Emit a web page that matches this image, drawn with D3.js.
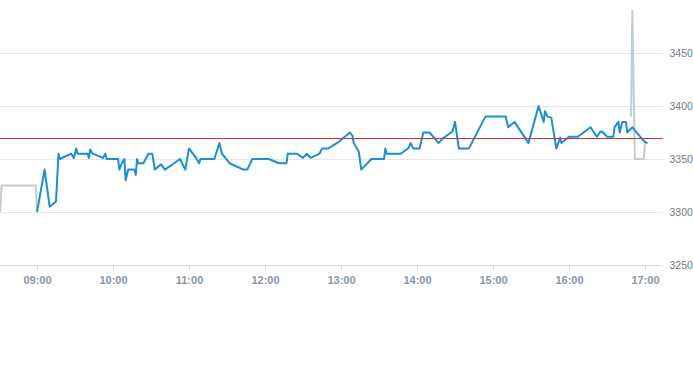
<!DOCTYPE html>
<meta charset="utf-8">
<style>
    body { margin: 0; background: #fff; }
    svg { display: block; font-family: "Liberation Sans", Arial, sans-serif; }
    .grid line { stroke: #e6e6e6; }
    .axis--x .domain, .axis--x line { stroke: #ccd6eb; }
    .axis--x text { fill: #8a94a3; font-size: 11px; font-weight: bold; }
    .axis--y text { fill: #707a87; font-size: 10.5px; }
    .line { fill: none; stroke-width: 2; stroke-linejoin: round; }
</style>
<svg width="693" height="365"></svg>
<script src="https://d3js.org/d3.v7.min.js"></script>
<script>

    // main session prices
    var priceTimes = ["09:00","09:06","09:10","09:15","09:17","09:18","09:27","09:29","09:31","09:32",
        "09:40","09:41","09:42","09:44","09:52","09:54","09:55","10:04","10:05","10:07",
        "10:09","10:10","10:12","10:17","10:18","10:19","10:20","10:24","10:28","10:31",
        "10:33","10:38","10:41","10:53","10:57","11:00","11:05","11:08","11:09","11:20",
        "11:24","11:26","11:32","11:43","11:46","11:50","12:03","12:11","12:17","12:18",
        "12:25","12:30","12:33","12:36","12:43","12:45","12:50","12:58","13:07","13:09",
        "13:10","13:14","13:16","13:24","13:34","13:35","13:36","13:47","13:53","13:55",
        "13:57","14:02","14:05","14:10","14:17","14:21","14:28","14:30","14:33","14:41",
        "14:54","15:10","15:12","15:17","15:28","15:36","15:40","15:41","15:43","15:46",
        "15:50","15:53","15:54","16:00","16:07","16:17","16:22","16:25","16:27","16:30",
        "16:35","16:36","16:39","16:40","16:42","16:45","16:46","16:50","16:52","16:57",
        "17:00","17:02"];
    var priceValues = [3300,3340,3305,3310,3355,3350,3355,3351,3360,3355,
        3355,3351,3359,3355,3351,3355,3350,3350,3340,3346,
        3350,3330,3340,3340,3335,3350,3346,3346,3355,3355,
        3340,3345,3340,3350,3340,3360,3352,3346,3350,3350,
        3365,3355,3346,3340,3340,3350,3350,3346,3346,3355,
        3355,3351,3355,3351,3355,3360,3360,3366,3375,3372,
        3365,3357,3340,3350,3350,3360,3355,3355,3360,3365,
        3360,3360,3375,3375,3365,3370,3376,3385,3360,3360,
        3390,3390,3380,3385,3365,3400,3385,3395,3390,3389,
        3360,3370,3365,3371,3371,3380,3371,3376,3375,3371,
        3371,3380,3385,3375,3385,3385,3375,3380,3377,3370,
        3366,3365];

    // pre/post session prices
    var extTimes = ["08:31","08:32","08:59","09:00", null,
        "16:49","16:50","16:52","16:59","17:00"];
    var extValues = [3300,3325,3325,3300, null,
        3390,3490,3350,3350,3365];

    var refValue = 3370;
    var yTicks = [3250, 3300, 3350, 3400, 3450];
    var xTicks = ["09:00","10:00","11:00","12:00","13:00","14:00","15:00","16:00","17:00"];

    var svg = d3.select("svg"),
        plotRight = 663,
        plotBottom = 265;

    var parseTime = d3.timeParse("%H:%M");

    var x = d3.scaleTime()
        .domain([parseTime("08:30"), parseTime("17:15")])
        .range([-1, 664]);
    var y = d3.scaleLinear()
        .domain([3250, 3500])
        .range([plotBottom, 0]);

    var price = priceTimes.map(function(t, i) { return {t: parseTime(t), v: priceValues[i]}; });
    var ext = extTimes.map(function(t, i) { return t ? {t: parseTime(t), v: extValues[i]} : null; });

    // grid
    svg.append("g")
        .attr("class", "grid")
        .selectAll("line")
        .data(yTicks.slice(1))
        .enter().append("line")
        .attr("x1", 0).attr("x2", plotRight)
        .attr("y1", function(d) { return Math.round(y(d)) + 0.5; })
        .attr("y2", function(d) { return Math.round(y(d)) + 0.5; });

    // x axis
    var xAxis = d3.axisBottom(x)
        .tickValues(xTicks.map(parseTime))
        .tickFormat(d3.timeFormat("%H:%M"))
        .tickSize(5)
        .tickSizeOuter(0)
        .tickPadding(6);

    var gx = svg.append("g")
        .attr("class", "axis axis--x")
        .attr("transform", "translate(0," + (plotBottom + 0.5) + ")")
        .call(xAxis);
    gx.select(".domain").attr("d", "M0,0H" + (plotRight - 1));

    // y axis on the right
    var yAxis = d3.axisRight(y)
        .tickValues(yTicks)
        .tickFormat(d3.format("d"))
        .tickSize(0)
        .tickPadding(0);

    var gy = svg.append("g")
        .attr("class", "axis axis--y")
        .attr("transform", "translate(669.5,0)")
        .call(yAxis);
    gy.select(".domain").remove();

    // lines
    var line = d3.line()
        .defined(function(d) { return d; })
        .x(function(d) { return x(d.t); })
        .y(function(d) { return y(d.v); });

    svg.append("path")
        .datum(ext)
        .attr("class", "line")
        .attr("stroke", "#c2ccd4")
        .attr("d", line);

    svg.append("path")
        .datum(price)
        .attr("class", "line")
        .attr("stroke", "#1a8fd9")
        .attr("d", line);

    // reference level
    svg.append("line")
        .attr("x1", 0).attr("x2", plotRight)
        .attr("y1", Math.round(y(refValue)) + 0.5)
        .attr("y2", Math.round(y(refValue)) + 0.5)
        .attr("stroke", "#d2322c")
        .attr("stroke-width", 1);

</script>
